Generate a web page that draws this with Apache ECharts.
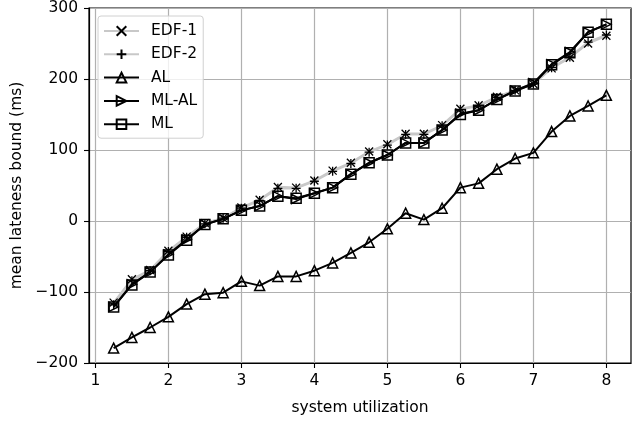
<!DOCTYPE html>
<html>
<head>
<meta charset="utf-8">
<script src="https://cdn.jsdelivr.net/npm/echarts@6/dist/echarts.min.js"></script>
<style>html,body{margin:0;padding:0;background:#fff}#c{width:637px;height:421px}</style>
</head>
<body>
<div id="c"></div>
<script>
const utilization = [1.25,1.5,1.75,2,2.25,2.5,2.75,3,3.25,3.5,3.75,4,4.25,4.5,4.75,5,5.25,5.5,5.75,6,6.25,6.5,6.75,7,7.25,7.5,7.75,8];
const edf1 = [-115,-82,-69,-42,-22,-3,4,19,30,48,47,57,71,82,98,108,123,123,135,158,163,175,184,193,215,230,250,261];
const edf2 = [-118,-84,-70,-43,-23,-4,4,18,29,46,46,56,70,81,97,107,122,122,134,157,162,174,184,193,216,231,252,262];
const al   = [-179,-164,-150,-135,-117,-103,-101,-85,-91,-78,-78,-70,-59,-45,-30,-11,11,2,18,47,53,73,88,96,126,148,162,177];
const mlal = [-121,-89,-72,-47,-26,-5,3,15,21,35,31,39,47,66,82,93,110,110,128,151,156,171,184,194,221,238,266,277];
const ml   = [-121,-90,-72,-48,-27,-5,3,15,21,35,32,39,47,66,82,93,110,110,128,150,156,171,183,193,220,237,266,277];
const xTicks = [1,2,3,4,5,6,7,8];
const yTicks = [-200,-100,0,100,200,300];

const pairs = ys => utilization.map((x,i)=>[x, ys[i]]);
const minus = v => (v < 0 ? '\u2212' + Math.abs(v) : String(v));
const FONT = 'DejaVu Sans';
const FS = 15.5;

function mk(name, ys, symbol, size, lineColor, lw, bw) {
  return {
    name, type: 'line', data: pairs(ys), symbol, symbolSize: size,
    showSymbol: true, animation: false,
    lineStyle: {color: lineColor, width: lw},
    itemStyle: {color: 'rgba(0,0,0,0)', borderColor: '#000', borderWidth: bw},
    emphasis: {disabled: true}
  };
}

const chart = echarts.init(document.getElementById('c'), null, {renderer: 'canvas'});
chart.setOption({
  animation: false,
  backgroundColor: '#fff',
  textStyle: {fontFamily: FONT},
  grid: {left: 89, right: 6, top: 7, bottom: 56, show: true, borderColor: '#000', borderWidth: 1.2, backgroundColor: 'transparent'},
  xAxis: {
    type: 'value', min: 0.9125, max: 8.3375,
    name: 'system utilization', nameLocation: 'middle', nameGap: 37,
    nameTextStyle: {fontSize: FS, color: '#000', fontFamily: FONT},
    axisLine: {show: true, onZero: false, lineStyle: {color: '#000', width: 1.2}},
    axisTick: {show: true, inside: false, length: 5, lineStyle: {color: '#000', width: 1.1}, customValues: xTicks},
    axisLabel: {fontSize: FS, color: '#000', margin: 10, fontFamily: FONT, customValues: xTicks, formatter: v => minus(v)},
    splitLine: {show: true, lineStyle: {color: '#b0b0b0', width: 1.2}}
  },
  yAxis: {
    type: 'value', min: -200, max: 300, interval: 100,
    name: 'mean lateness bound (ms)', nameLocation: 'middle', nameGap: 55, nameRotate: 90,
    nameTextStyle: {fontSize: FS, color: '#000', fontFamily: FONT},
    axisLine: {show: true, onZero: false, lineStyle: {color: '#000', width: 1.2}},
    axisTick: {show: true, inside: false, length: 5, lineStyle: {color: '#000', width: 1.1}},
    axisLabel: {fontSize: FS, color: '#000', margin: 11, fontFamily: FONT, formatter: v => minus(v)},
    splitLine: {show: true, lineStyle: {color: '#b0b0b0', width: 1.2}}
  },
  legend: {
    orient: 'vertical', left: 98, top: 16,
    itemWidth: 35, itemHeight: 12, itemGap: 7.3,
    padding: [7, 6, 6, 5],
    backgroundColor: 'rgba(255,255,255,0.8)', borderColor: '#d0d0d0', borderWidth: 1, borderRadius: 3,
    textStyle: {fontSize: FS, color: '#000', fontFamily: FONT, padding: [0, 0, 0, 7]},
    data: ['EDF-1', 'EDF-2', 'AL', 'ML-AL', 'ML']
  },
  series: [
    mk('EDF-1', edf1, 'path://M0,0L10,10M0,10L10,0', 8, '#c8c8c8', 2.2, 1.3),
    mk('EDF-2', edf2, 'path://M5,0L5,10M0,5L10,5', 9, '#c8c8c8', 2.2, 1.3),
    mk('AL', al, 'triangle', 10, '#000', 2, 1.5),
    mk('ML-AL', mlal, 'path://M0,0L10,5L0,10Z', 9, '#000', 2, 1.5),
    mk('ML', ml, 'rect', 10, '#000', 2, 1.5)
  ]
});
</script>
</body>
</html>
